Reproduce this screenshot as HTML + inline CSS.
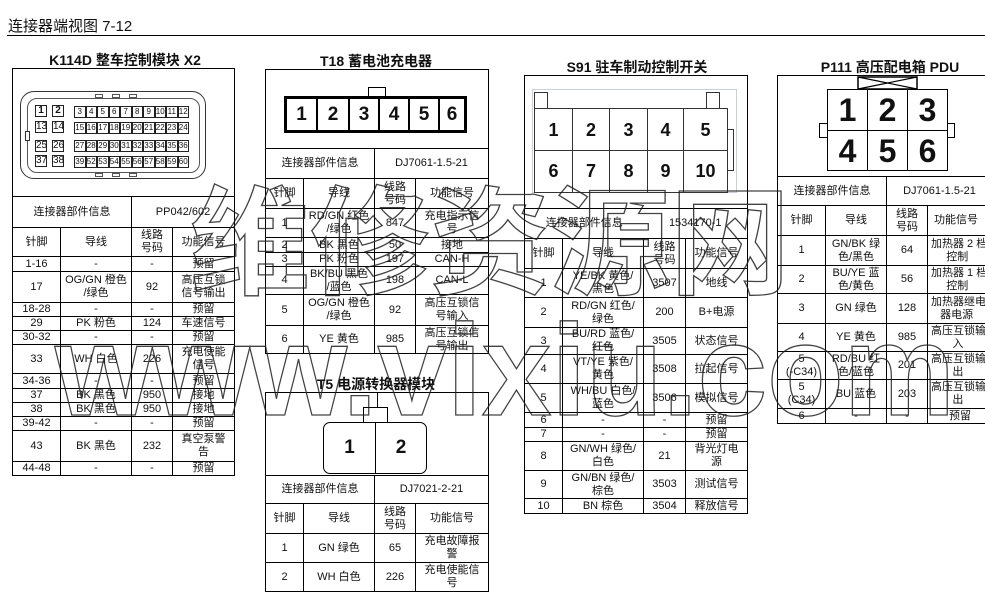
<!DOCTYPE html>
<html><head><meta charset="utf-8">
<style>
*{margin:0;padding:0;box-sizing:border-box}
body{width:985px;height:613px;background:#fff;position:relative;overflow:hidden;font-family:"Liberation Sans","Noto Sans CJK SC",sans-serif;color:#111}
.abs{position:absolute}
table{position:absolute;border-collapse:collapse;table-layout:fixed;font-size:11px;line-height:13px}
td{border:1px solid #000;text-align:center;vertical-align:middle;padding:0;overflow:hidden}
.t{position:absolute;font-size:14px;font-weight:bold;white-space:nowrap;transform:translateX(-50%)}
.pin{position:absolute;border:1px solid #222;font-size:9px;text-align:center;line-height:10px;background:#fff}
.big{font-weight:bold;text-align:center}
</style></head><body>
<div class="abs" style="left:8px;top:15px;font-size:15px">连接器端视图 7-12</div>
<div class="abs" style="left:7px;top:35px;width:978px;height:1px;background:#000"></div>

<!-- K114D -->
<div class="t" style="left:125px;top:50px">K114D 整车控制模块 X2</div>
<table style="left:12px;top:68px;width:222px">
<colgroup><col style="width:48px"><col style="width:71px"><col style="width:41px"><col style="width:62px"></colgroup>
<tr style="height:128px"><td colspan="4"></td></tr>
<tr style="height:31px"><td colspan="2">连接器部件信息</td><td colspan="2">PP042/602</td></tr>
<tr style="height:29px"><td>针脚</td><td>导线</td><td>线路<br>号码</td><td>功能信号</td></tr>
<tr style="height:15px"><td>1-16</td><td>-</td><td>-</td><td>预留</td></tr>
<tr style="height:31px"><td>17</td><td>OG/GN 橙色<br>/绿色</td><td>92</td><td>高压互锁<br>信号输出</td></tr>
<tr style="height:14px"><td>18-28</td><td>-</td><td>-</td><td>预留</td></tr>
<tr style="height:14px"><td>29</td><td>PK 粉色</td><td>124</td><td>车速信号</td></tr>
<tr style="height:14px"><td>30-32</td><td>-</td><td>-</td><td>预留</td></tr>
<tr style="height:29px"><td>33</td><td>WH 白色</td><td>226</td><td>充电使能<br>信号</td></tr>
<tr style="height:15px"><td>34-36</td><td>-</td><td>-</td><td>预留</td></tr>
<tr style="height:14px"><td>37</td><td>BK 黑色</td><td>950</td><td>接地</td></tr>
<tr style="height:14px"><td>38</td><td>BK 黑色</td><td>950</td><td>接地</td></tr>
<tr style="height:14px"><td>39-42</td><td>-</td><td>-</td><td>预留</td></tr>
<tr style="height:31px"><td>43</td><td>BK 黑色</td><td>232</td><td>真空泵警<br>告</td></tr>
<tr style="height:14px"><td>44-48</td><td>-</td><td>-</td><td>预留</td></tr>
</table>
<div class="abs" style="left:20px;top:91px;width:186px;height:88px;border:1.5px solid #333;border-radius:14px"></div>
<div class="abs" style="left:27px;top:98px;width:173px;height:75px;border:1px solid #555;border-radius:10px"></div>
<div class="abs" style="left:25px;top:131px;width:5px;height:10px;border:1px solid #333;background:#fff"></div>
<div class="abs" style="left:95px;top:94px;width:8px;height:4px;border:1px solid #555;background:#fff"></div>
<div class="abs" style="left:112px;top:94px;width:8px;height:4px;border:1px solid #555;background:#fff"></div>
<div class="abs" style="left:129px;top:94px;width:8px;height:4px;border:1px solid #555;background:#fff"></div>
<div class="abs" style="left:95px;top:173px;width:8px;height:4px;border:1px solid #555;background:#fff"></div>
<div class="abs" style="left:112px;top:173px;width:8px;height:4px;border:1px solid #555;background:#fff"></div>
<div class="abs" style="left:129px;top:173px;width:8px;height:4px;border:1px solid #555;background:#fff"></div>
<div class="pin" style="left:35px;top:105px;width:12px;height:12px;font-size:10px;line-height:10px;font-weight:bold">1</div>
<div class="pin" style="left:52px;top:105px;width:12px;height:12px;font-size:10px;line-height:10px;font-weight:bold">2</div>
<div class="pin" style="left:35px;top:121px;width:12px;height:12px;font-size:10px;line-height:10px">13</div>
<div class="pin" style="left:52px;top:121px;width:12px;height:12px;font-size:10px;line-height:10px">14</div>
<div class="pin" style="left:35px;top:140px;width:12px;height:12px;font-size:10px;line-height:10px">25</div>
<div class="pin" style="left:52px;top:140px;width:12px;height:12px;font-size:10px;line-height:10px">26</div>
<div class="pin" style="left:35px;top:155px;width:12px;height:12px;font-size:10px;line-height:10px">37</div>
<div class="pin" style="left:52px;top:155px;width:12px;height:12px;font-size:10px;line-height:10px">38</div>
<div class="abs" style="left:74px;top:106px;display:flex">
<div class="pin" style="position:static;width:11.5px;height:12px;font-size:8px">3</div><div class="pin" style="position:static;width:11.5px;height:12px;font-size:8px">4</div><div class="pin" style="position:static;width:11.5px;height:12px;font-size:8px">5</div><div class="pin" style="position:static;width:11.5px;height:12px;font-size:8px">6</div><div class="pin" style="position:static;width:11.5px;height:12px;font-size:8px">7</div><div class="pin" style="position:static;width:11.5px;height:12px;font-size:8px">8</div><div class="pin" style="position:static;width:11.5px;height:12px;font-size:8px">9</div><div class="pin" style="position:static;width:11.5px;height:12px;font-size:8px">10</div><div class="pin" style="position:static;width:11.5px;height:12px;font-size:8px">11</div><div class="pin" style="position:static;width:11.5px;height:12px;font-size:8px">12</div></div>
<div class="abs" style="left:74px;top:122px;display:flex">
<div class="pin" style="position:static;width:11.5px;height:12px;font-size:8px">15</div><div class="pin" style="position:static;width:11.5px;height:12px;font-size:8px">16</div><div class="pin" style="position:static;width:11.5px;height:12px;font-size:8px">17</div><div class="pin" style="position:static;width:11.5px;height:12px;font-size:8px">18</div><div class="pin" style="position:static;width:11.5px;height:12px;font-size:8px">19</div><div class="pin" style="position:static;width:11.5px;height:12px;font-size:8px">20</div><div class="pin" style="position:static;width:11.5px;height:12px;font-size:8px">21</div><div class="pin" style="position:static;width:11.5px;height:12px;font-size:8px">22</div><div class="pin" style="position:static;width:11.5px;height:12px;font-size:8px">23</div><div class="pin" style="position:static;width:11.5px;height:12px;font-size:8px">24</div></div>
<div class="abs" style="left:74px;top:140px;display:flex">
<div class="pin" style="position:static;width:11.5px;height:12px;font-size:8px">27</div><div class="pin" style="position:static;width:11.5px;height:12px;font-size:8px">28</div><div class="pin" style="position:static;width:11.5px;height:12px;font-size:8px">29</div><div class="pin" style="position:static;width:11.5px;height:12px;font-size:8px">30</div><div class="pin" style="position:static;width:11.5px;height:12px;font-size:8px">31</div><div class="pin" style="position:static;width:11.5px;height:12px;font-size:8px">32</div><div class="pin" style="position:static;width:11.5px;height:12px;font-size:8px">33</div><div class="pin" style="position:static;width:11.5px;height:12px;font-size:8px">34</div><div class="pin" style="position:static;width:11.5px;height:12px;font-size:8px">35</div><div class="pin" style="position:static;width:11.5px;height:12px;font-size:8px">36</div></div>
<div class="abs" style="left:74px;top:156px;display:flex">
<div class="pin" style="position:static;width:11.5px;height:12px;font-size:8px">39</div><div class="pin" style="position:static;width:11.5px;height:12px;font-size:8px">52</div><div class="pin" style="position:static;width:11.5px;height:12px;font-size:8px">53</div><div class="pin" style="position:static;width:11.5px;height:12px;font-size:8px">54</div><div class="pin" style="position:static;width:11.5px;height:12px;font-size:8px">55</div><div class="pin" style="position:static;width:11.5px;height:12px;font-size:8px">56</div><div class="pin" style="position:static;width:11.5px;height:12px;font-size:8px">57</div><div class="pin" style="position:static;width:11.5px;height:12px;font-size:8px">58</div><div class="pin" style="position:static;width:11.5px;height:12px;font-size:8px">59</div><div class="pin" style="position:static;width:11.5px;height:12px;font-size:8px">60</div></div>

<!-- T18 -->
<div class="t" style="left:376px;top:51px">T18 蓄电池充电器</div>
<table style="left:265px;top:69px;width:223px">
<colgroup><col style="width:38px"><col style="width:71px"><col style="width:41px"><col style="width:73px"></colgroup>
<tr style="height:79px"><td colspan="4"></td></tr>
<tr style="height:30px"><td colspan="2">连接器部件信息</td><td colspan="2">DJ7061-1.5-21</td></tr>
<tr style="height:30px"><td>针脚</td><td>导线</td><td>线路<br>号码</td><td>功能信号</td></tr>
<tr style="height:29px"><td>1</td><td>RD/GN 红色<br>/绿色</td><td>847</td><td>充电指示信<br>号</td></tr>
<tr style="height:15px"><td>2</td><td>BK 黑色</td><td>50</td><td>接地</td></tr>
<tr style="height:14px"><td>3</td><td>PK 粉色</td><td>197</td><td>CAN-H</td></tr>
<tr style="height:28px"><td>4</td><td>BK/BU 黑色<br>/蓝色</td><td>198</td><td>CAN-L</td></tr>
<tr style="height:31px"><td>5</td><td>OG/GN 橙色<br>/绿色</td><td>92</td><td>高压互锁信<br>号输入</td></tr>
<tr style="height:28px"><td>6</td><td>YE 黄色</td><td>985</td><td>高压互锁信<br>号输出</td></tr>
</table>
<div class="abs" style="left:368px;top:87px;width:18px;height:10px;border:1.5px solid #000;background:#fff"></div>
<div class="abs" style="left:284px;top:96px;width:183px;height:37px;border:3px solid #000;display:flex;background:#fff">
<div class="big" style="width:31px;border-right:2px solid #000;font-size:19px;line-height:31px">1</div>
<div class="big" style="width:32px;border-right:2px solid #000;font-size:19px;line-height:31px">2</div>
<div class="big" style="width:30px;border-right:2px solid #000;font-size:19px;line-height:31px">3</div>
<div class="big" style="width:30px;border-right:2px solid #000;font-size:19px;line-height:31px">4</div>
<div class="big" style="width:30px;border-right:2px solid #000;font-size:19px;line-height:31px">5</div>
<div class="big" style="flex:1;font-size:19px;line-height:31px">6</div></div>

<!-- T5 -->
<div class="t" style="left:376px;top:374px">T5 电源转换器模块</div>
<table style="left:265px;top:392px;width:223px">
<colgroup><col style="width:38px"><col style="width:71px"><col style="width:41px"><col style="width:73px"></colgroup>
<tr style="height:83px"><td colspan="4"></td></tr>
<tr style="height:28px"><td colspan="2">连接器部件信息</td><td colspan="2">DJ7021-2-21</td></tr>
<tr style="height:30px"><td>针脚</td><td>导线</td><td>线路<br>号码</td><td>功能信号</td></tr>
<tr style="height:29px"><td>1</td><td>GN 绿色</td><td>65</td><td>充电故障报<br>警</td></tr>
<tr style="height:29px"><td>2</td><td>WH 白色</td><td>226</td><td>充电使能信<br>号</td></tr>
</table>
<div class="abs" style="left:377px;top:392px;width:1px;height:16px;background:#000"></div>
<div class="abs" style="left:363px;top:407px;width:25px;height:16px;border:1.5px solid #000;background:#fff"></div>
<div class="abs" style="left:323px;top:422px;width:104px;height:52px;border:1.5px solid #000;border-radius:7px;display:flex;background:#fff">
<div class="big" style="width:52px;border-right:1px solid #000;font-size:19px;line-height:49px">1</div>
<div class="big" style="flex:1;font-size:19px;line-height:49px">2</div></div>

<!-- S91 -->
<div class="t" style="left:637px;top:57px">S91 驻车制动控制开关</div>
<table style="left:524px;top:75px;width:223px">
<colgroup><col style="width:38px"><col style="width:81px"><col style="width:42px"><col style="width:62px"></colgroup>
<tr style="height:133px"><td colspan="4"></td></tr>
<tr style="height:30px"><td colspan="2" style="border-right:none">连接器部件信息</td><td colspan="2" style="border-left:none">1534170-1</td></tr>
<tr style="height:30px"><td>针脚</td><td>导线</td><td>线路<br>号码</td><td>功能信号</td></tr>
<tr style="height:29px"><td>1</td><td>YE/BK 黄色/<br>黑色</td><td>3507</td><td>地线</td></tr>
<tr style="height:30px"><td>2</td><td>RD/GN 红色/<br>绿色</td><td>200</td><td>B+电源</td></tr>
<tr style="height:27px"><td>3</td><td>BU/RD 蓝色/<br>红色</td><td>3505</td><td>状态信号</td></tr>
<tr style="height:29px"><td>4</td><td>VT/YE 紫色/<br>黄色</td><td>3508</td><td>拉起信号</td></tr>
<tr style="height:29px"><td>5</td><td>WH/BU 白色/<br>蓝色</td><td>3506</td><td>模拟信号</td></tr>
<tr style="height:15px"><td>6</td><td>-</td><td>-</td><td>预留</td></tr>
<tr style="height:14px"><td>7</td><td>-</td><td>-</td><td>预留</td></tr>
<tr style="height:29px"><td>8</td><td>GN/WH 绿色/<br>白色</td><td>21</td><td>背光灯电<br>源</td></tr>
<tr style="height:28px"><td>9</td><td>GN/BN 绿色/<br>棕色</td><td>3503</td><td>测试信号</td></tr>
<tr style="height:15px"><td>10</td><td>BN 棕色</td><td>3504</td><td>释放信号</td></tr>
</table>
<div class="abs" style="left:532px;top:89px;width:205px;height:104px;border:1px solid #c8d0dc"></div>
<div class="abs" style="left:534px;top:92px;width:14px;height:17px;border:1.5px solid #333;background:#fff"></div>
<div class="abs" style="left:706px;top:92px;width:14px;height:17px;border:1.5px solid #333;background:#fff"></div>
<div class="abs" style="left:726px;top:129px;width:8px;height:42px;border:1.5px solid #333;background:#fff"></div>
<div class="abs" style="left:534px;top:108px;width:194px;height:85px;border:1.5px solid #333;display:grid;grid-template-columns:38px 37px 38px 36px 1fr;grid-template-rows:42px 1fr;background:#fff">
<div class="big" style="border-right:1px solid #333;border-bottom:1px solid #333;font-size:18px;line-height:42px">1</div>
<div class="big" style="border-right:1px solid #333;border-bottom:1px solid #333;font-size:18px;line-height:42px">2</div>
<div class="big" style="border-right:1px solid #333;border-bottom:1px solid #333;font-size:18px;line-height:42px">3</div>
<div class="big" style="border-right:1px solid #333;border-bottom:1px solid #333;font-size:18px;line-height:42px">4</div>
<div class="big" style="border-bottom:1px solid #333;font-size:18px;line-height:42px">5</div>
<div class="big" style="border-right:1px solid #333;font-size:18px;line-height:40px">6</div>
<div class="big" style="border-right:1px solid #333;font-size:18px;line-height:40px">7</div>
<div class="big" style="border-right:1px solid #333;font-size:18px;line-height:40px">8</div>
<div class="big" style="border-right:1px solid #333;font-size:18px;line-height:40px">9</div>
<div class="big" style="font-size:18px;line-height:40px">10</div></div>

<!-- P111 -->
<div class="t" style="left:890px;top:57px">P111 高压配电箱 PDU</div>
<table style="left:777px;top:75px;width:215px">
<colgroup><col style="width:48px"><col style="width:61px"><col style="width:41px"><col style="width:65px"></colgroup>
<tr style="height:101px"><td colspan="4"></td></tr>
<tr style="height:29px"><td colspan="2">连接器部件信息</td><td colspan="2">DJ7061-1.5-21</td></tr>
<tr style="height:30px"><td>针脚</td><td>导线</td><td>线路<br>号码</td><td style="text-align:left;padding-left:6px">功能信号</td></tr>
<tr style="height:30px"><td>1</td><td>GN/BK 绿<br>色/黑色</td><td>64</td><td style="text-align:left;padding-left:3px;white-space:nowrap">加热器 2 档<br>&nbsp;&nbsp;&nbsp;&nbsp;&nbsp;控制</td></tr>
<tr style="height:28px"><td>2</td><td>BU/YE 蓝<br>色/黄色</td><td>56</td><td style="text-align:left;padding-left:3px;white-space:nowrap">加热器 1 档<br>&nbsp;&nbsp;&nbsp;&nbsp;&nbsp;控制</td></tr>
<tr style="height:30px"><td>3</td><td>GN 绿色</td><td>128</td><td style="text-align:left;padding-left:3px;white-space:nowrap">加热器继电<br>&nbsp;&nbsp;&nbsp;器电源</td></tr>
<tr style="height:28px"><td>4</td><td>YE 黄色</td><td>985</td><td style="text-align:left;padding-left:3px;white-space:nowrap">高压互锁输<br>&nbsp;&nbsp;&nbsp;&nbsp;&nbsp;&nbsp;&nbsp;入</td></tr>
<tr style="height:28px"><td>5<br>(-C34)</td><td>RD/BU 红<br>色/蓝色</td><td>201</td><td style="text-align:left;padding-left:3px;white-space:nowrap">高压互锁输<br>&nbsp;&nbsp;&nbsp;&nbsp;&nbsp;&nbsp;&nbsp;出</td></tr>
<tr style="height:29px"><td>5<br>(C34)</td><td>BU 蓝色</td><td>203</td><td style="text-align:left;padding-left:3px;white-space:nowrap">高压互锁输<br>&nbsp;&nbsp;&nbsp;&nbsp;&nbsp;&nbsp;&nbsp;出</td></tr>
<tr style="height:15px"><td>6</td><td>-</td><td>-</td><td>预留</td></tr>
</table>
<svg class="abs" style="left:857px;top:76px" width="62" height="14"><rect x="1" y="1" width="59" height="12" fill="#fff" stroke="#000" stroke-width="1.5"/><path d="M1 1L60 13M60 1L1 13" stroke="#000" stroke-width="1.2"/></svg>
<div class="abs" style="left:819px;top:123px;width:9px;height:15px;border:1.5px solid #000;background:#fff"></div>
<div class="abs" style="left:946px;top:123px;width:9px;height:15px;border:1.5px solid #000;background:#fff"></div>
<div class="abs" style="left:827px;top:89px;width:121px;height:82px;border:1.5px solid #000;display:grid;grid-template-columns:40px 40px 1fr;grid-template-rows:41px 1fr;background:#fff">
<div class="big" style="border-right:1px solid #000;border-bottom:1px solid #000;font-size:32px;line-height:40px">1</div>
<div class="big" style="border-right:1px solid #000;border-bottom:1px solid #000;font-size:32px;line-height:40px">2</div>
<div class="big" style="border-bottom:1px solid #000;font-size:32px;line-height:40px">3</div>
<div class="big" style="border-right:1px solid #000;font-size:32px;line-height:40px">4</div>
<div class="big" style="border-right:1px solid #000;font-size:32px;line-height:40px">5</div>
<div class="big" style="font-size:32px;line-height:40px">6</div></div>

<!-- watermark -->
<svg class="abs" style="left:0;top:0" width="985" height="613">
<g font-family="'Liberation Sans','Noto Sans CJK SC',sans-serif" font-weight="bold" fill="none" stroke="#222" stroke-width="1.3" opacity="0.85">
<text x="190" y="285" font-size="118" textLength="600" lengthAdjust="spacingAndGlyphs">维修资源网</text>
<text x="55" y="415" font-size="130" textLength="900" lengthAdjust="spacingAndGlyphs">www.vixiu.com</text>
</g></svg>
</body></html>
